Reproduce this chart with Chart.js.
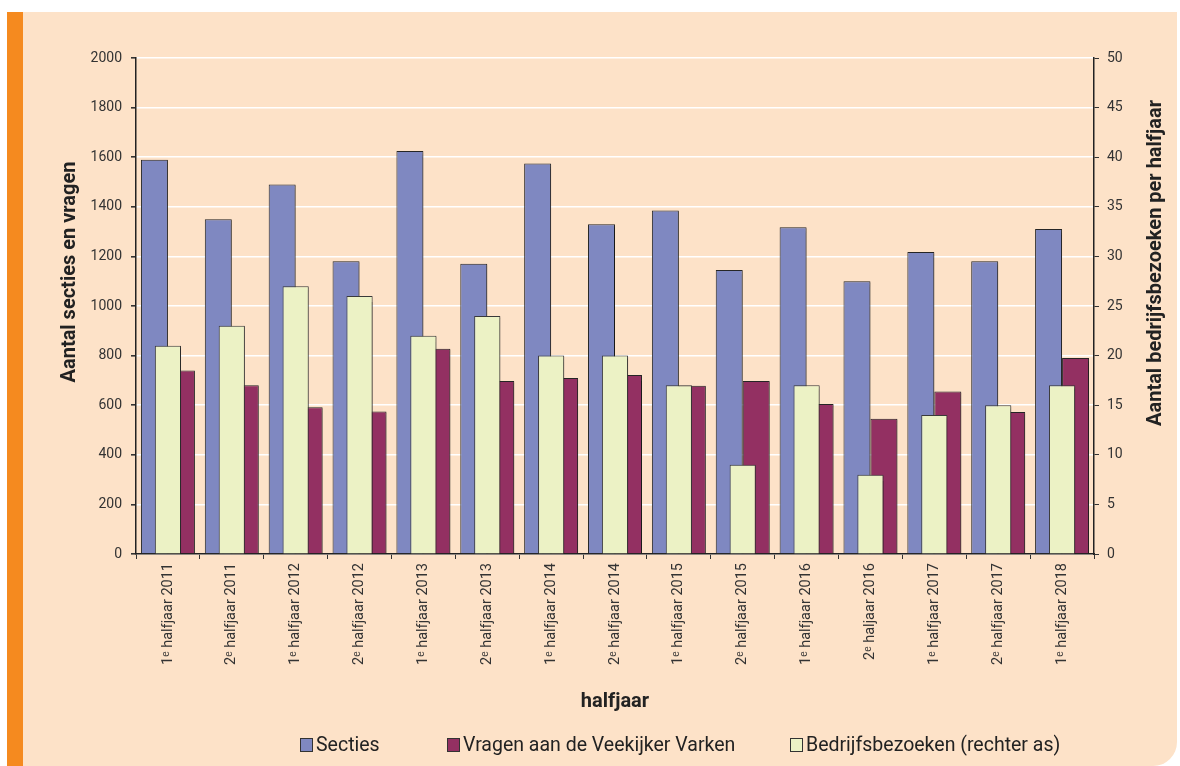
<!DOCTYPE html>
<html>
<head>
<meta charset="utf-8">
<script src="https://cdn.jsdelivr.net/npm/chart.js@4.4.1/dist/chart.umd.min.js"></script>
<style>
  html, body { margin: 0; padding: 0; background: #ffffff; }
  #wrap { position: relative; width: 1180px; height: 766px; overflow: hidden; }
  #strip { position: absolute; left: 7px; top: 12px; width: 16px; height: 754px; background: #f58a1f; }
  #panel { position: absolute; left: 23px; top: 12px; width: 1154px; height: 754px; background: #fde2c8; border-bottom-right-radius: 24px; }
  #c { position: absolute; left: 0; top: 0; }
  .lg { position: absolute; top: 733px; display: flex; align-items: center; font-family: Roboto, sans-serif; font-size: 19.5px; color: #222; white-space: nowrap; }
  .lg span.box { display: inline-block; width: 11px; height: 12px; border: 1px solid #333; margin-right: 3px; }
</style>
</head>
<body>
<div id="wrap">
  <div id="strip"></div>
  <div id="panel"></div>
  <canvas id="c" width="1180" height="766"></canvas>
  <div id="legend"></div>
</div>
<script>
const categories = ['1ᵉ halfjaar 2011','2ᵉ halfjaar 2011','1ᵉ halfjaar 2012','2ᵉ halfjaar 2012','1ᵉ halfjaar 2013','2ᵉ halfjaar 2013','1ᵉ halfjaar 2014','2ᵉ halfjaar 2014','1ᵉ halfjaar 2015','2ᵉ halfjaar 2015','1ᵉ halfjaar 2016','2ᵉ haljaar 2016','1ᵉ halfjaar 2017','2ᵉ halfjaar 2017','1ᵉ halfjaar 2018'];
const secties = [1590, 1350, 1490, 1180, 1625, 1170, 1575, 1330, 1385, 1145, 1318, 1100, 1218, 1180, 1310];
const vragen = [740, 680, 592, 575, 828, 698, 710, 722, 678, 698, 605, 545, 655, 573, 790];
const bedrijfsbezoeken = [21, 23, 27, 26, 22, 24, 20, 20, 17, 9, 17, 8, 14, 15, 17];
const seriesNames = ['Secties', 'Vragen aan de Veekijker Varken', 'Bedrijfsbezoeken (rechter as)'];
const leftTitle = 'Aantal secties en vragen';
const rightTitle = 'Aantal bedrijfsbezoeken per halfjaar';
const xTitle = 'halfjaar';
const colors = ['#7f88c1', '#933062', '#ecf2c5'];

const FONT = 'Roboto, sans-serif';

const shadowPlugin = {
  id: 'barShadow',
  beforeDatasetDraw(chart) {
    const ctx = chart.ctx;
    ctx.save();
    ctx.shadowColor = 'rgba(0,0,0,0.35)';
    ctx.shadowOffsetX = 1.5;
    ctx.shadowOffsetY = 1.5;
    ctx.shadowBlur = 1.5;
  },
  afterDatasetDraw(chart) {
    chart.ctx.restore();
  }
};

const yTitlesPlugin = {
  id: 'yTitles',
  afterDraw(chart) {
    const ctx = chart.ctx;
    const y = chart.scales.y;
    const mid = (y.top + y.bottom) / 2;
    const draw = (text, x, yc) => {
      ctx.save();
      ctx.font = 'bold 20px ' + FONT;
      ctx.fillStyle = '#222';
      ctx.textAlign = 'center';
      ctx.textBaseline = 'middle';
      ctx.translate(x, yc);
      ctx.rotate(-Math.PI / 2);
      ctx.fillText(text, 0, 0);
      ctx.restore();
    };
    draw(leftTitle, 70, mid - 34);
    draw(rightTitle, 1156, mid - 43);
  }
};

const tickFont = { family: FONT, size: 14 };

const chart = new Chart(document.getElementById('c'), {
  type: 'bar',
  data: {
    labels: categories,
    datasets: [
      { label: seriesNames[0], data: secties, backgroundColor: colors[0], borderColor: '#262626', borderWidth: 1,
        yAxisID: 'y', order: 1, categoryPercentage: 0.845, barPercentage: 1 },
      { label: seriesNames[1], data: vragen, backgroundColor: colors[1], borderColor: '#262626', borderWidth: 1,
        yAxisID: 'y', order: 2, categoryPercentage: 0.845, barPercentage: 1 },
      { label: seriesNames[2], data: bedrijfsbezoeken, backgroundColor: colors[2], borderColor: '#3a3a3a', borderWidth: 1,
        yAxisID: 'y2', order: 0, grouped: false, categoryPercentage: 0.41, barPercentage: 1 }
    ]
  },
  options: {
    responsive: false,
    animation: false,
    devicePixelRatio: 1,
    layout: { padding: { top: 58, left: 0, right: 0, bottom: 46 } },
    plugins: { legend: { display: false }, tooltip: { enabled: false } },
    scales: {
      x: {
        position: 'bottom',
        offset: true,
        z: 1,
        grid: { offset: true, drawOnChartArea: false, drawTicks: true, tickLength: 5, tickColor: '#333', tickWidth: 1 },
        border: { display: true, color: '#222', width: 1.5 },
        ticks: { autoSkip: false, maxRotation: 90, minRotation: 90, padding: 4, color: '#333', font: { family: FONT, size: 14.5 } },
        title: { display: true, text: xTitle, color: '#222', font: { family: FONT, size: 20, weight: 'bold' }, padding: { top: 0, bottom: 6 } },
        afterFit(s) { s.height = 166; }
      },
      y: {
        position: 'left',
        min: 0, max: 2000,
        ticks: { stepSize: 200, padding: 9, color: '#333', font: tickFont, callback: (v) => String(v) },
        grid: { color: '#ffffff', lineWidth: 1.6, tickColor: '#333', tickLength: 5 },
        border: { color: '#222', width: 1.5 },
        afterFit(s) { s.width = 136; }
      },
      y2: {
        position: 'right',
        min: 0, max: 50,
        ticks: { stepSize: 5, padding: 8, color: '#333', font: tickFont, callback: (v) => String(v) },
        grid: { drawOnChartArea: false, tickColor: '#333', tickLength: 5 },
        border: { color: '#222', width: 1.5 },
        afterFit(s) { s.width = 86; }
      }
    }
  },
  plugins: [shadowPlugin, yTitlesPlugin]
});

// HTML legend built from the dataset names and colours
const legendLefts = [300, 447, 790];
const legendEl = document.getElementById('legend');
seriesNames.forEach((name, i) => {
  const item = document.createElement('div');
  item.className = 'lg';
  item.style.left = legendLefts[i] + 'px';
  const box = document.createElement('span');
  box.className = 'box';
  box.style.background = colors[i];
  const txt = document.createElement('span');
  txt.textContent = name;
  item.appendChild(box);
  item.appendChild(txt);
  legendEl.appendChild(item);
});
</script>
</body>
</html>
